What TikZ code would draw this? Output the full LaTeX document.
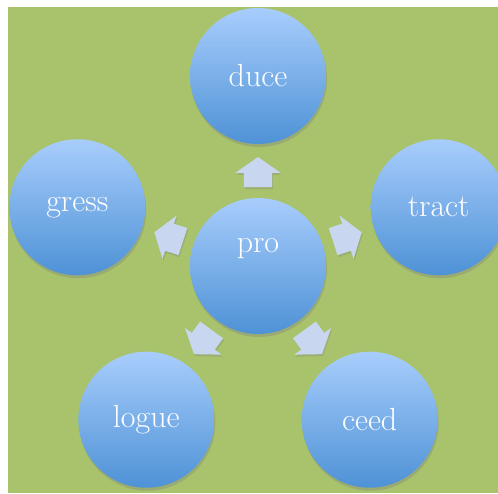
\documentclass[tikz,border=0pt]{standalone}
\usetikzlibrary{shapes.arrows,shadows}
\definecolor{bggreen}{RGB}{169,195,108}
\definecolor{bubbletop}{RGB}{168,205,252}
\definecolor{bubblebot}{RGB}{78,146,214}
\definecolor{arrowblue}{RGB}{200,214,240}

\begin{document}
\begin{tikzpicture}[x=1pt,y=1pt,
    main node/.style={circle,minimum size=136pt,inner sep=0pt,top color=bubbletop,bottom color=bubblebot,text=white,font=\fontsize{32}{38}\selectfont,drop shadow={shadow xshift=1pt,shadow yshift=-3pt,opacity=0.35}},
    push arrow/.style={single arrow,single arrow head extend=8.5pt,single arrow tip angle=110,text height=28pt,text depth=0pt,minimum height=30pt,inner sep=0pt,fill=arrowblue,drop shadow={shadow xshift=1pt,shadow yshift=-2pt,opacity=0.3}}]
            \useasboundingbox (0,0) rectangle (498,493);
            \clip (0,0) rectangle (498,493);
            \fill[bggreen] (8,0) rectangle (498,486);

            \node[main node,text depth=42pt] (pro) at (258,227) {pro};
            \node[main node] (duce) at ([shift={(90:190)}]pro) {duce};
            \node[main node] (gress) at ([shift={(162:190)}]pro) {gress};
            \node[main node] (logue) at ([shift={(234:190)}]pro) {logue};
            \node[main node] (ceed) at ([shift={(306:190)}]pro) {ceed};
            \node[main node] (tract) at ([shift={(18:190)}]pro) {tract};

            \foreach \a in {90,162,234,306,18}
                \node[push arrow,rotate=\a] (arrow\a) at ([shift={(\a:89)}]pro) {};
        \end{tikzpicture}
\end{document}
